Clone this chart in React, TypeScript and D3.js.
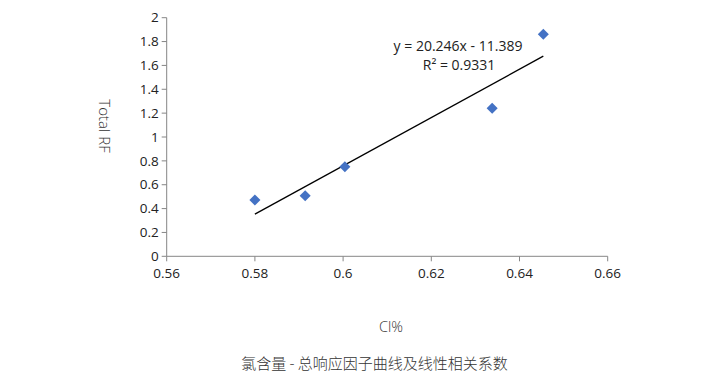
import React from "react";
import * as d3 from "d3";

const xValues = [0.58, 0.5914, 0.6004, 0.6338, 0.6454];
const yValues = [0.472, 0.508, 0.751, 1.241, 1.861];
const xTicks = [0.56, 0.58, 0.6, 0.62, 0.64, 0.66];
const yTicks = [0, 0.2, 0.4, 0.6, 0.8, 1, 1.2, 1.4, 1.6, 1.8, 2];
const trendCoef = [20.246, -11.389];
const equationLines = ["y = 20.246x - 11.389", "R² = 0.9331"];
const xTitle = "Cl%";
const yTitle = "Total RF";
const chartTitle = "氯含量 - 总响应因子曲线及线性相关系数";

const W = 723;
const H = 378;
const L = 166.7, R = 607.7, T = 17.7, B = 256.3;
const font = "'Open Sans', 'Noto Sans', sans-serif";

export default function App() {
  const x = d3.scaleLinear().domain([0.56, 0.66]).range([L, R]);
  const y = d3.scaleLinear().domain([0, 2]).range([B, T]);
  const xMin = d3.min(xValues)!;
  const xMax = d3.max(xValues)!;
  const f = (v: number) => trendCoef[0] * v + trendCoef[1];
  const line = d3.line<number>().x((d) => x(d)).y((d) => y(f(d)));
  const diamond = d3.symbol().type(d3.symbolDiamond2).size(78)();
  const axisColor = "#868686";
  return (
    <svg width={W} height={H} style={{ position: "absolute", left: 0, top: 0, background: "#fff" }}>
      <rect width={W} height={H} fill="#fff" />
      {/* y axis */}
      <line x1={L} x2={L} y1={T} y2={B} stroke={axisColor} strokeWidth={1} />
      {yTicks.map((t) => (
        <g key={t}>
          <line x1={L - 5} x2={L} y1={y(t)} y2={y(t)} stroke={axisColor} />
          <text x={L - 8} y={y(t)} dy="0.35em" textAnchor="end" fontSize={13.5} fontFamily={font} fill="#222">
            {String(t)}
          </text>
        </g>
      ))}
      {/* x axis */}
      <line x1={L} x2={R} y1={B} y2={B} stroke={axisColor} strokeWidth={1} />
      {xTicks.map((t) => (
        <g key={t}>
          <line x1={x(t)} x2={x(t)} y1={B} y2={B + 5} stroke={axisColor} />
          <text x={x(t)} y={B + 22} textAnchor="middle" fontSize={13.5} fontFamily={font} fill="#222">
            {String(t)}
          </text>
        </g>
      ))}
      {/* trendline */}
      <path d={line([xMin, xMax])!} stroke="#000" strokeWidth={1.3} fill="none" />
      {/* points */}
      {xValues.map((v, i) => (
        <path key={i} d={diamond!} transform={`translate(${x(v)},${y(yValues[i])})`} fill="#4472C4" />
      ))}
      {/* equation */}
      <text x={458} y={50.5} textAnchor="middle" fontSize={14} fontFamily={font} fill="#222">
        {equationLines[0]}
      </text>
      <text x={459} y={70} textAnchor="middle" fontSize={14} fontFamily={font} fill="#222">
        {equationLines[1]}
      </text>
      {/* axis titles */}
      <text
        transform={`translate(104.5,126) rotate(90)`}
        textAnchor="middle"
        dy="0.35em"
        fontSize={15}
        fontFamily={font}
        fill="#333"
        fontWeight={300}
      >
        {yTitle}
      </text>
      <text x={391} y={332} textAnchor="middle" fontSize={14.5} fontFamily={font} fill="#333" fontWeight={300}>
        {xTitle}
      </text>
      <text
        x={374.5}
        y={369}
        textAnchor="middle"
        fontSize={15}
        fontFamily="'Noto Sans CJK SC', sans-serif"
        fill="#333"
        fontWeight={300}
      >
        {chartTitle}
      </text>
    </svg>
  );
}
